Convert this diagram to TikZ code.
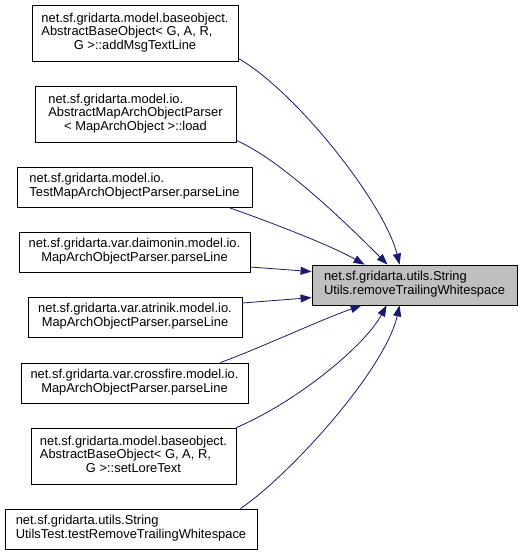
\documentclass[tikz,border=0pt]{standalone}
\usepackage{fontspec}
\setmainfont{Liberation Sans}
\usetikzlibrary{arrows.meta}
\definecolor{edgeblue}{HTML}{191970}
\definecolor{targetgray}{HTML}{BFBFBF}
\begin{document}
\begin{tikzpicture}[x=1pt,y=-1pt,
  box/.style={draw=black, line width=0.8pt, fill=white, inner sep=0pt,
    font=\fontsize{12.9}{13.4}\selectfont},
  targetbox/.style={box, fill=targetgray},
  edge/.style={draw=edgeblue, line width=0.8pt,
    -{Triangle[length=11pt,width=8pt]}}]
\useasboundingbox (0,0) rectangle (523,555);

\node[box, minimum width=206pt, minimum height=56pt] (b1) at (135,33)
  {\begin{tabular}{@{}l@{}}net.sf.gridarta.model.baseobject.\\AbstractBaseObject< G, A, R,\\\multicolumn{1}{@{}c@{}}{G >::addMsgTextLine}\end{tabular}};
\node[box, minimum width=201pt, minimum height=56pt] (b2) at (135.5,114)
  {\begin{tabular}{@{}l@{}}net.sf.gridarta.model.io.\\AbstractMapArchObjectParser\\\multicolumn{1}{@{}c@{}}{< MapArchObject >::load}\end{tabular}};
\node[box, minimum width=235pt, minimum height=40pt] (b3) at (134.5,187)
  {\begin{tabular}{@{}l@{}}net.sf.gridarta.model.io.\\TestMapArchObjectParser.parseLine\end{tabular}};
\node[box, minimum width=231pt, minimum height=40pt] (b4) at (134.5,252)
  {\begin{tabular}{@{}c@{}}net.sf.gridarta.var.daimonin.model.io.\\MapArchObjectParser.parseLine\end{tabular}};
\node[box, minimum width=214pt, minimum height=40pt] (b5) at (135,317)
  {\begin{tabular}{@{}c@{}}net.sf.gridarta.var.atrinik.model.io.\\MapArchObjectParser.parseLine\end{tabular}};
\node[box, minimum width=227pt, minimum height=40pt] (b6) at (134.5,383)
  {\begin{tabular}{@{}c@{}}net.sf.gridarta.var.crossfire.model.io.\\MapArchObjectParser.parseLine\end{tabular}};
\node[box, minimum width=205pt, minimum height=56pt] (b7) at (133.5,456)
  {\begin{tabular}{@{}l@{}}net.sf.gridarta.model.baseobject.\\AbstractBaseObject< G, A, R,\\\multicolumn{1}{@{}c@{}}{G >::setLoreText}\end{tabular}};
\node[box, minimum width=252pt, minimum height=40pt] (b8) at (131,529)
  {\begin{tabular}{@{}l@{}}net.sf.gridarta.utils.String\\UtilsTest.testRemoveTrailingWhitespace\end{tabular}};
\node[targetbox, minimum width=205pt, minimum height=40pt] (t) at (414.5,285)
  {\begin{tabular}{@{}l@{}}net.sf.gridarta.utils.String\\Utils.removeTrailingWhitespace\end{tabular}};

\draw[edge] ([yshift=3pt]b1.south east) .. controls (298,93) and (385,205) .. ([xshift=88pt]t.north west);
\draw[edge] ([yshift=2pt]b2.south east) .. controls (281,160) and (345,222) .. ([xshift=76pt]t.north west);
\draw[edge] ([xshift=-24pt]b3.south east) .. controls (270,222) and (330,245) .. ([xshift=53pt]t.north west);
\draw[edge] ([yshift=-15pt]b4.east) -- ([yshift=-7pt]t.north west);
\draw[edge] ([yshift=14pt]b5.east) -- ([yshift=-33pt]t.north west);
\draw[edge] ([xshift=-28pt]b6.north east) .. controls (265,346) and (320,320) .. ([xshift=50pt]t.south west);
\draw[edge] (b7.north east) .. controls (300,400) and (365,345) .. ([xshift=75pt]t.south west);
\draw[edge] ([xshift=-17pt]b8.north east) .. controls (290,475) and (385,370) .. ([xshift=88pt]t.south west);
\end{tikzpicture}
\end{document}
